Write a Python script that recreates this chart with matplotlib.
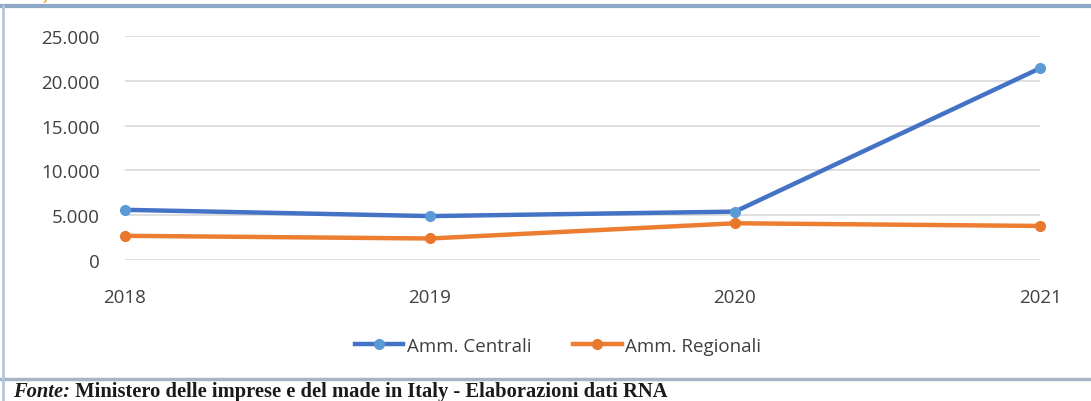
import matplotlib

matplotlib.use("Agg")
import matplotlib.pyplot as plt
from matplotlib.lines import Line2D

YEARS = ["2018", "2019", "2020", "2021"]
CENTRALI = [5600, 4900, 5400, 21400]
REGIONALI = [2700, 2400, 4100, 3800]
Y_TICKS = [0, 5000, 10000, 15000, 20000, 25000]
Y_LABELS = ["0", "5.000", "10.000", "15.000", "20.000", "25.000"]
SOURCE_ITALIC = "Fonte:"
SOURCE_TEXT = " Ministero delle imprese e del made in Italy - Elaborazioni dati RNA"

W, H = 1091, 402
fig = plt.figure(figsize=(W / 100, H / 100), dpi=100)
fig.patch.set_facecolor("white")
plt.rcParams["font.family"] = ["Open Sans", "DejaVu Sans"]

# plot area: x 125..1040 px, y 37..261 px (from top)
ax = fig.add_axes([125 / W, 1 - 261 / H, (1040 - 125) / W, (261 - 37) / H])
x = list(range(len(YEARS)))
ax.plot(x, CENTRALI, color="#4472C4", lw=3.2, marker="o", ms=7,
        mfc="#5B9BD5", mec="#5B9BD5", solid_capstyle="round", zorder=3,
        clip_on=False, label="Amm. Centrali")
ax.plot(x, REGIONALI, color="#ED7D31", lw=3.2, marker="o", ms=7,
        mfc="#E8782C", mec="#E8782C", solid_capstyle="round", zorder=3,
        clip_on=False, label="Amm. Regionali")
ax.set_xlim(0, 3)
ax.set_ylim(0, 25000)
ax.set_yticks(Y_TICKS)
ax.set_yticklabels(Y_LABELS)
ax.set_xticks(x)
ax.set_xticklabels(YEARS)
ax.tick_params(length=0, labelsize=13.5, colors="#404040")
ax.tick_params(axis="y", pad=18)
ax.tick_params(axis="x", pad=20)
ax.grid(axis="y", color="#D9D9D9", lw=1.2)
ax.set_axisbelow(True)
for s in ax.spines.values():
    s.set_visible(False)
ax.set_facecolor("none")

handles = [
    Line2D([], [], color="#4472C4", lw=3.2, marker="o", ms=7,
           mfc="#5B9BD5", mec="#5B9BD5"),
    Line2D([], [], color="#ED7D31", lw=3.2, marker="o", ms=7,
           mfc="#E8782C", mec="#E8782C"),
]
fig.legend(handles, ["Amm. Centrali", "Amm. Regionali"],
           loc="center", bbox_to_anchor=(558 / W, 1 - 347 / H), ncol=2,
           frameon=False, fontsize=13.5, handlelength=2.6, handletextpad=0.2,
           columnspacing=2.2, labelcolor="#404040")

# frame lines
fig.add_artist(Line2D([0, 1], [1 - 7 / H] * 2, color="#8EA9C8", lw=3))
fig.add_artist(Line2D([0, 1], [1 - 380 / H] * 2, color="#A6B4C4", lw=2.5))
fig.add_artist(Line2D([3 / W] * 2, [0, 1 - 7 / H], color="#B4C7DC", lw=2))
fig.text(8 / W, 1 + 4 / H, "2023)", color="#E8B830", fontsize=11,
         fontweight="bold", va="center", ha="left")

# source line
base_y = 1 - 397 / H
t = fig.text(13 / W, base_y, SOURCE_ITALIC, family="Liberation Serif",
             style="italic", fontweight="bold", fontsize=14.8, va="baseline",
             color="#1a1a1a")
fig.canvas.draw()
bb = t.get_window_extent()
fig.text(bb.x1 / W, base_y, SOURCE_TEXT, family="Liberation Serif",
         fontweight="bold", fontsize=14.8, va="baseline", color="#1a1a1a")

fig.savefig("out.png", dpi=100)
